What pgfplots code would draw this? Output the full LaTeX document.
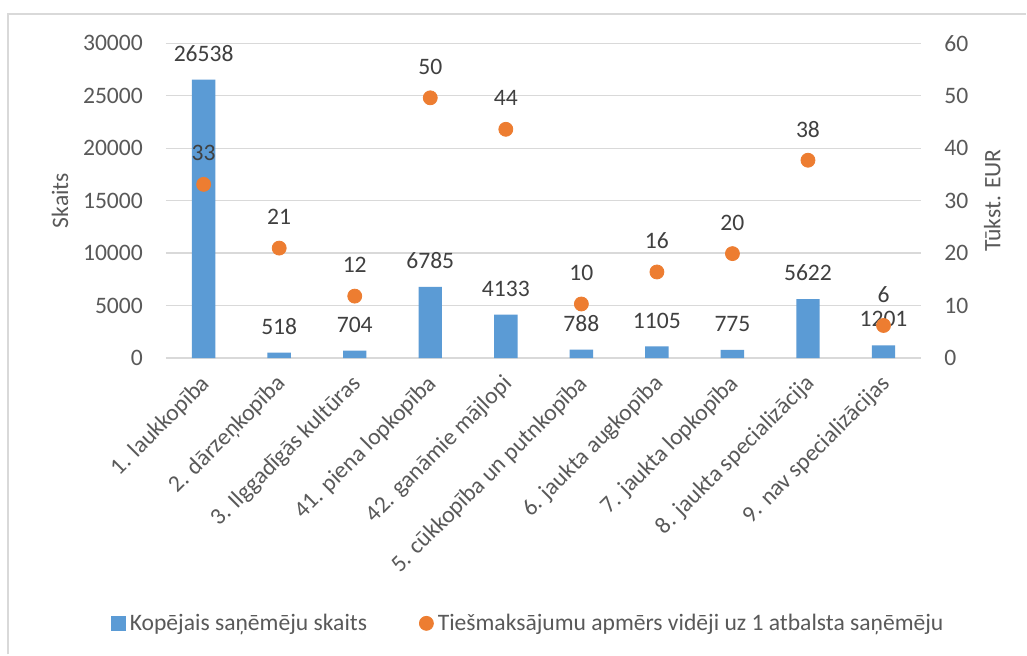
\documentclass[border=0pt]{standalone}
\usepackage{pgfplots}
\pgfplotsset{compat=1.18}
\usepackage{fontspec}
\setmainfont{Carlito}
\definecolor{barblue}{HTML}{5B9BD5}
\definecolor{dotorange}{HTML}{ED7D31}
\definecolor{txtgray}{HTML}{595959}
\definecolor{lblgray}{HTML}{404040}
\definecolor{gridgray}{HTML}{D9D9D9}
\newcommand{\chartfont}{\fontsize{11.8}{14}\selectfont}
\pgfplotsset{
  every axis/.append style={
    font=\chartfont,
    scale only axis, width=378pt, height=157.5pt,
    at={(83pt,148.35pt)}, anchor=south west,
    xmin=-0.5, xmax=9.5,
    axis line style={draw=none},
    major tick length=0pt,
    tick label style={font=\chartfont, text=txtgray},
    label style={font=\chartfont, text=txtgray},
    /pgf/number format/assume math mode=true,
    /pgf/number format/1000 sep={},
    scaled y ticks=false,
  },
}
\begin{document}
\begin{tikzpicture}
% picture bounds and chart frame (1px = 0.5pt)
\path[fill=white] (0,0) rectangle (513.5pt,327.5pt);
\draw[gridgray, line width=0.8pt] (4pt,0) -- (4pt,320.5pt) -- (513.5pt,320.5pt);

\begin{axis}[
    ymin=0, ymax=30000,
    ytick={0,5000,...,30000},
    ymajorgrids,
    grid style={gridgray, line width=0.6pt},
    yticklabel style={xshift=-8pt},
    ylabel={Skaits},
    ylabel style={at={(axis description cs:-0.140,0.5)}, anchor=center, rotate=0},
    xtick={0,...,9},
    xticklabels={1. laukkopība, 2. dārzeņkopība, 3. Ilggadīgās kultūras, 41. piena lopkopība, 42. ganāmie mājlopi, 5. cūkkopība un putnkopība, 6. jaukta augkopība, 7. jaukta lopkopība, 8. jaukta specializācija, 9. nav specializācijas},
    xticklabel style={xshift=-2.2pt, yshift=-6pt, rotate=45, anchor=north east, inner sep=1pt},
    ybar, bar width=0.31,
    nodes near coords,
    nodes near coords style={anchor=center, yshift=13pt, text=lblgray, font=\chartfont},
]
\addplot[fill=barblue, draw=none] coordinates {
  (0,26538) (1,518) (2,704) (3,6785) (4,4133)
  (5,788) (6,1105) (7,775) (8,5622) (9,1201)
};
\end{axis}

\begin{axis}[
    ymin=0, ymax=60,
    ytick={0,10,...,60},
    axis x line=none,
    axis y line*=right,
    yticklabel style={xshift=8pt},
    ylabel={Tūkst. EUR},
    ylabel style={at={(axis description cs:1.094,0.5)}, anchor=center, rotate=0},
    legend columns=2,
    legend style={at={(axis description cs:0.481,-0.843)}, anchor=center,
      draw=none, fill=none, font=\chartfont, text=txtgray,
      /tikz/every even column/.append style={column sep=24pt}},
]
\addlegendimage{legend image code/.code={\fill[barblue] (0pt,-3.5pt) rectangle (7pt,3.5pt);}}
\addlegendentry{Kopējais saņēmēju skaits}
\addplot[only marks, mark=*, mark size=3.5pt, color=dotorange,
    nodes near coords, point meta=y,
    nodes near coords style={anchor=center, yshift=15.5pt, text=lblgray, font=\chartfont,
      /pgf/number format/.cd, fixed, precision=0},
    legend image code/.code={\fill[dotorange] (3.5pt,0pt) circle (3.5pt);}
] coordinates {
  (0,33.1) (1,20.95) (2,11.8) (3,49.6) (4,43.6)
  (5,10.3) (6,16.4) (7,19.9) (8,37.7) (9,6.2)
};
\addlegendentry{Tiešmaksājumu apmērs vidēji uz 1 atbalsta saņēmēju}
\end{axis}
\end{tikzpicture}
\end{document}
